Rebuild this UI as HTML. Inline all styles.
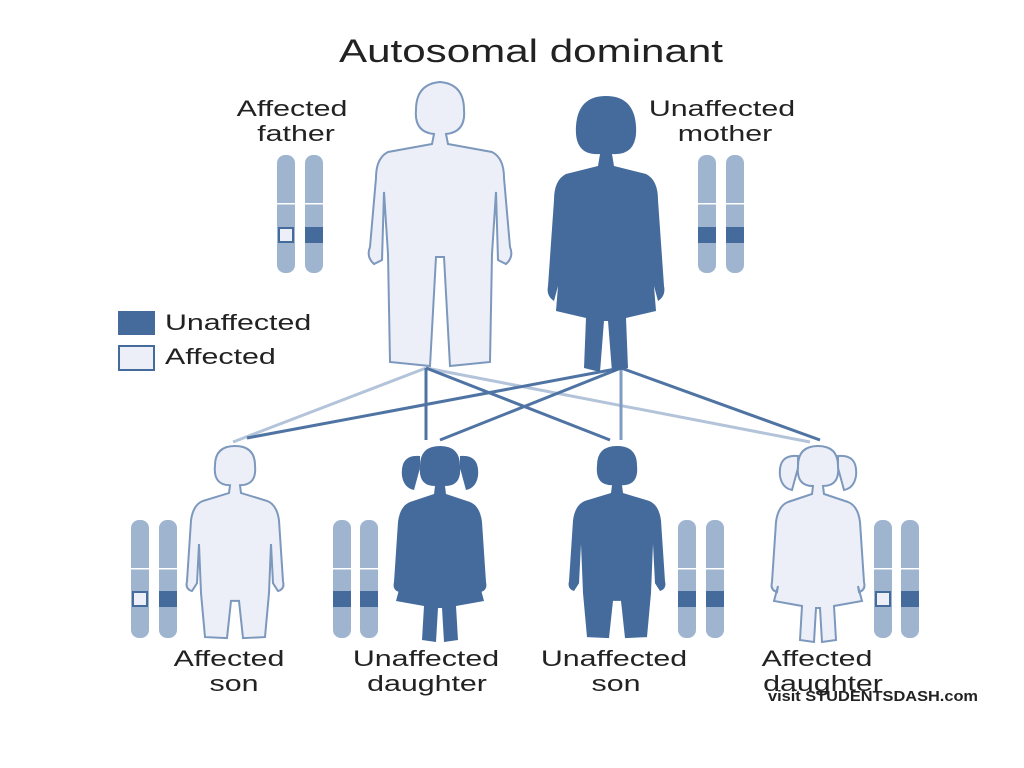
<!DOCTYPE html>
<html><head><meta charset="utf-8"><style>
html,body{margin:0;padding:0;background:#fff;}
svg{display:block;}
text{font-family:"Liberation Sans",sans-serif;fill:#222;}
</style></head><body>
<svg width="1024" height="768" viewBox="0 0 1024 768" xmlns="http://www.w3.org/2000/svg">
<defs>
<path id="man" d="M-6 52 Q-26 50 -24 28 Q-24 2 0 0 Q24 2 24 28 Q26 50 6 52 L8 62 L52 70 Q64 76 64 96 L70 165 Q74 175 66 182 L58 178 L56 110 L52 172 L50 280 L10 284 L4 175 L-4 175 L-10 284 L-50 280 L-52 172 L-56 110 L-58 178 L-66 182 Q-74 175 -70 165 L-64 96 Q-64 76 -52 70 L-8 62 Z"/>
<path id="woman" d="M-6 58 Q-32 60 -30 30 Q-28 0 0 0 Q28 0 30 30 Q32 60 6 58 L8 70 L40 78 Q52 84 52 104 L58 190 Q60 200 52 205 L48 190 L50 215 L20 222 L22 272 L6 276 L2 225 L-2 225 L-6 276 L-22 272 L-20 222 L-50 215 L-48 190 L-52 205 Q-60 200 -58 190 L-52 104 Q-52 84 -40 78 L-8 70 Z"/>
<path id="boy" d="M-5 40 Q-22 40 -20 20 Q-20 0 0 0 Q20 0 20 20 Q22 40 5 40 L6 48 L32 56 Q42 60 44 76 L48 138 Q50 146 43 148 L38 140 L36 100 L34 150 L30 195 L8 196 L4 158 L-4 158 L-8 196 L-30 195 L-34 150 L-36 100 L-38 140 L-43 148 Q-50 146 -48 138 L-44 76 Q-42 60 -32 56 L-6 48 Z"/>
<path id="girl" d="M-5 40 Q-22 40 -20 20 Q-20 0 0 0 Q20 0 20 20 Q22 40 5 40 L6 48 L30 56 Q40 60 42 76 L46 136 Q48 144 41 146 L40 140 L44 155 L16 160 L18 194 L4 196 L2 162 L-2 162 L-4 196 L-18 194 L-16 160 L-44 155 L-40 140 L-41 146 Q-48 144 -46 136 L-42 76 Q-40 60 -30 56 L-6 48 Z M-20 10 Q-40 8 -38 30 Q-36 42 -26 44 L-20 22 Z M20 10 Q40 8 38 30 Q36 42 26 44 L20 22 Z"/>
</defs>
<text x="339" y="62" font-size="32" textLength="384" lengthAdjust="spacingAndGlyphs">Autosomal dominant</text>
<g font-size="22" text-anchor="middle">
<text transform="translate(292,116) scale(1.38,1)">Affected</text>
<text transform="translate(296,141) scale(1.38,1)">father</text>
<text transform="translate(722,116) scale(1.38,1)">Unaffected</text>
<text transform="translate(725,141) scale(1.38,1)">mother</text>
<text transform="translate(229,666) scale(1.38,1)">Affected</text>
<text transform="translate(234,691) scale(1.38,1)">son</text>
<text transform="translate(426,666) scale(1.38,1)">Unaffected</text>
<text transform="translate(427,691) scale(1.38,1)">daughter</text>
<text transform="translate(614,666) scale(1.38,1)">Unaffected</text>
<text transform="translate(616,691) scale(1.38,1)">son</text>
<text transform="translate(817,666) scale(1.38,1)">Affected</text>
<text transform="translate(823,691) scale(1.38,1)">daughter</text>
<text transform="translate(165,330) scale(1.38,1)" text-anchor="start">Unaffected</text>
<text transform="translate(165,364) scale(1.38,1)" text-anchor="start">Affected</text>
</g>
<rect x="118" y="311" width="37" height="24" fill="#456b9c"/>
<rect x="119" y="346" width="35" height="24" fill="#eceff7" stroke="#456b9c" stroke-width="2"/>
<g stroke-width="3" fill="none">
<line x1="426" y1="368" x2="233" y2="442" stroke="#b3c4da"/>
<line x1="426" y1="368" x2="810" y2="442" stroke="#b3c4da"/>
<line x1="426" y1="368" x2="426" y2="440" stroke="#4f74a3"/>
<line x1="426" y1="368" x2="610" y2="440" stroke="#4f74a3"/>
<line x1="621" y1="368" x2="247" y2="438" stroke="#4f74a3"/>
<line x1="621" y1="368" x2="440" y2="440" stroke="#4f74a3"/>
<line x1="621" y1="368" x2="621" y2="440" stroke="#7e9bc0"/>
<line x1="621" y1="368" x2="820" y2="440" stroke="#4f74a3"/>
</g>
<use href="#man" transform="translate(440,82)" fill="#eceff7" stroke="#7d98bd" stroke-width="2"/>
<use href="#woman" transform="translate(606,96)" fill="#456b9c"/>
<use href="#boy" transform="translate(235,446) scale(1,0.98)" fill="#eceff7" stroke="#7d98bd" stroke-width="2"/>
<use href="#girl" transform="translate(440,446)" fill="#456b9c"/>
<use href="#boy" transform="translate(617,446) scale(1,0.98)" fill="#456b9c"/>
<use href="#girl" transform="translate(818,446)" fill="#eceff7" stroke="#7d98bd" stroke-width="2"/>
<g fill="#9fb5cf">
<rect x="277" y="155" width="18" height="118" rx="8"/><rect x="305" y="155" width="18" height="118" rx="8"/>
<rect x="698" y="155" width="18" height="118" rx="8"/><rect x="726" y="155" width="18" height="118" rx="8"/>
<rect x="131" y="520" width="18" height="118" rx="8"/><rect x="159" y="520" width="18" height="118" rx="8"/>
<rect x="333" y="520" width="18" height="118" rx="8"/><rect x="360" y="520" width="18" height="118" rx="8"/>
<rect x="678" y="520" width="18" height="118" rx="8"/><rect x="706" y="520" width="18" height="118" rx="8"/>
<rect x="874" y="520" width="18" height="118" rx="8"/><rect x="901" y="520" width="18" height="118" rx="8"/>
</g>
<g fill="#fff">
<rect x="277" y="203" width="46" height="1.5"/><rect x="698" y="203" width="46" height="1.5"/>
<rect x="131" y="568" width="46" height="1.5"/><rect x="333" y="568" width="45" height="1.5"/>
<rect x="678" y="568" width="46" height="1.5"/><rect x="874" y="568" width="45" height="1.5"/>
</g>
<g fill="#456b9c">
<rect x="305" y="227" width="18" height="16"/>
<rect x="698" y="227" width="18" height="16"/><rect x="726" y="227" width="18" height="16"/>
<rect x="159" y="591" width="18" height="16"/>
<rect x="333" y="591" width="18" height="16"/><rect x="360" y="591" width="18" height="16"/>
<rect x="678" y="591" width="18" height="16"/><rect x="706" y="591" width="18" height="16"/>
<rect x="901" y="591" width="18" height="16"/>
</g>
<g fill="#eceff7" stroke="#456b9c" stroke-width="2">
<rect x="279" y="228" width="14" height="14"/>
<rect x="133" y="592" width="14" height="14"/>
<rect x="876" y="592" width="14" height="14"/>
</g>
<text x="768" y="701" font-size="15" font-weight="bold" fill="#000" textLength="210" lengthAdjust="spacingAndGlyphs">visit STUDENTSDASH.com</text>
</svg>
</body></html>
